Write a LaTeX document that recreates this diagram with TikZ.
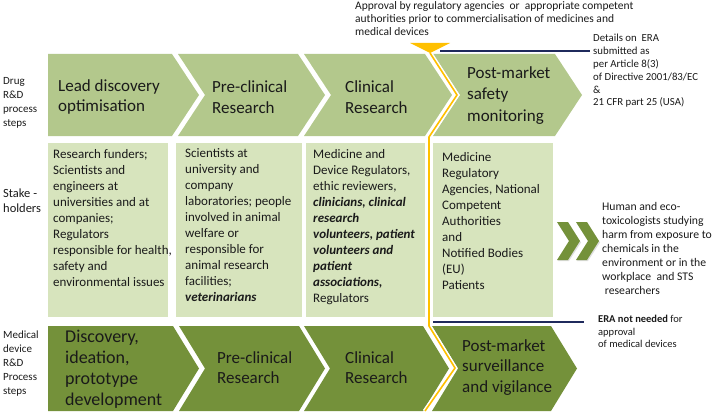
\documentclass[tikz,border=0pt]{standalone}
\usepackage{fontspec}
\setmainfont{Carlito}
\definecolor{lgreen}{HTML}{B3C88C}
\definecolor{pgreen}{HTML}{D7E4BD}
\definecolor{dgreen}{HTML}{74913A}
\definecolor{orng}{HTML}{FFC000}
\definecolor{navyc}{HTML}{1F2A5C}
\definecolor{txt}{HTML}{1A1A1A}
\newcommand\mychev[6]{\fill[#1] (#2,#4) -- (#3,#4) -- ({#3+#6},{(#4+#5)/2}) -- (#3,#5) -- (#2,#5) -- ({#2+#6},{(#4+#5)/2}) -- cycle;}
\newcommand\myflatchev[6]{\fill[#1] (#2,#4) -- (#3,#4) -- ({#3+#6},{(#4+#5)/2}) -- (#3,#5) -- (#2,#5) -- cycle;}
\begin{document}
\begin{tikzpicture}[x=1pt,y=-1pt,
  lbl/.style={inner sep=0pt, align=left, anchor=west, text=txt},
  side/.style={lbl, font=\fontsize{11}{14.2}\selectfont},
  chevtxt/.style={lbl, font=\fontsize{17}{20.5}\selectfont},
  boxtxt/.style={lbl, font=\fontsize{13}{16}\selectfont},
  navyline/.style={draw=navyc, line width=1.3pt}]
\useasboundingbox (0,0) rectangle (713,412);
% top chevrons
\myflatchev{lgreen}{48}{172}{54}{136}{27}
\mychev{lgreen}{178}{298}{54}{136}{27}
\mychev{lgreen}{304}{425}{54}{136}{27}
\mychev{lgreen}{433}{555}{54}{136}{27}
% stakeholder boxes
\fill[pgreen] (48,143) rectangle (168,317);
\fill[pgreen] (176,143) rectangle (302,317);
\fill[pgreen] (306,143) rectangle (425,317);
\fill[pgreen] (433,143) rectangle (553,317);
% bottom chevrons
\myflatchev{dgreen}{48}{173}{326}{411}{26}
\mychev{dgreen}{179}{299}{326}{411}{26}
\mychev{dgreen}{304}{423}{326}{411}{26}
\mychev{dgreen}{432}{551}{326}{411}{26}
% double chevron arrow
\mychev{black!25,opacity=0.5}{558}{569}{224}{261}{12}
\mychev{black!25,opacity=0.5}{577}{588}{224}{261}{12}
\mychev{dgreen}{557}{568}{222}{260}{12}
\mychev{dgreen}{576}{587}{222}{260}{12}
% orange approval line
\coordinate (apex) at (430,53);
\coordinate (o1) at (457,95);
\coordinate (o2) at (429,137);
\coordinate (o3) at (429,326);
\coordinate (o4) at (455,368);
\coordinate (o5) at (425,411);
\draw[white, line width=4.5pt, line join=miter] (apex) -- (o1) -- (o2) -- (o3) -- (o4) -- (o5);
\draw[orng, line width=1.6pt] (apex) -- (o1) -- (o2) -- (o3) -- (o4) -- (o5);
\fill[orng] (410,43) -- (450,43) -- (apex) -- cycle;
% texts
\node[lbl, font=\fontsize{11.5}{13}\selectfont] (approval) at (355,19) {Approval by regulatory agencies\ \ or\ \ appropriate competent\\authorities prior to commercialisation of medicines and\\medical devices};
\node[lbl, font=\fontsize{10.8}{12.8}\selectfont] (details) at (593,71) {Details on\ \ ERA\\submitted as\\per Article 8(3)\\of Directive 2001/83/EC\\\&\\21 CFR part 25 (USA)};
\node[lbl, font=\fontsize{10.5}{12.7}\selectfont] (notneeded) at (598,331.5) {\textbf{ERA not needed} for\\approval\\of medical devices};
\coordinate (d1) at (440,51);
\coordinate (d2) at (590,51);
\coordinate (n1) at (433,322);
\coordinate (n2) at (584,322);
\draw[navyline] (d1) -- (d2);
\draw[navyline] (n1) -- (n2);
\node[side] (drug) at (3,103) {Drug\\R\&D\\process\\steps};
\node[lbl, font=\fontsize{12.5}{15}\selectfont] (stake) at (3,200.5) {Stake -\\holders};
\node[side] (medical) at (3,363.5) {Medical\\device\\R\&D\\Process\\steps};
\node[chevtxt] (t1) at (58,97) {Lead discovery\\optimisation};
\node[chevtxt] (t2) at (212,97) {Pre-clinical\\Research};
\node[chevtxt] (t3) at (345,97) {Clinical\\Research};
\node[lbl, font=\fontsize{17}{21.5}\selectfont] (t4) at (467,95.5) {Post-market\\safety\\monitoring};
\node[lbl, font=\fontsize{18}{21}\selectfont] (b1) at (65,369.5) {Discovery,\\ideation,\\prototype\\development};
\node[chevtxt] (b2) at (217,367.5) {Pre-clinical\\Research};
\node[chevtxt] (b3) at (345,367.5) {Clinical\\Research};
\node[chevtxt] (b4) at (462,367.5) {Post-market\\surveillance\\and vigilance};
\node[boxtxt] (s1) at (53,218) {Research funders;\\Scientists and\\engineers at\\universities and at\\companies;\\Regulators\\responsible for health,\\safety and\\environmental issues};
\node[boxtxt] (s2) at (185,225) {Scientists at\\university and\\company\\laboratories; people\\involved in animal\\welfare or\\responsible for\\animal research\\facilities;\\\textbf{\textit{veterinarians}}};
\node[boxtxt] (s3) at (313,227) {Medicine and\\Device Regulators,\\ethic reviewers,\\\textbf{\textit{clinicians, clinical}}\\\textbf{\textit{research}}\\\textbf{\textit{volunteers, patient}}\\\textbf{\textit{volunteers and}}\\\textbf{\textit{patient}}\\\textbf{\textit{associations,}}\\Regulators};
\node[boxtxt] (s4) at (442,221) {Medicine\\Regulatory\\Agencies, National\\Competent\\Authorities\\and\\Notified Bodies\\(EU)\\Patients};
\node[lbl, font=\fontsize{11.7}{13.9}\selectfont] (human) at (602,248.5) {Human and eco-\\toxicologists studying\\harm from exposure to\\chemicals in the\\environment or in the\\workplace\ \ and STS\\\ researchers};
\end{tikzpicture}
\end{document}
